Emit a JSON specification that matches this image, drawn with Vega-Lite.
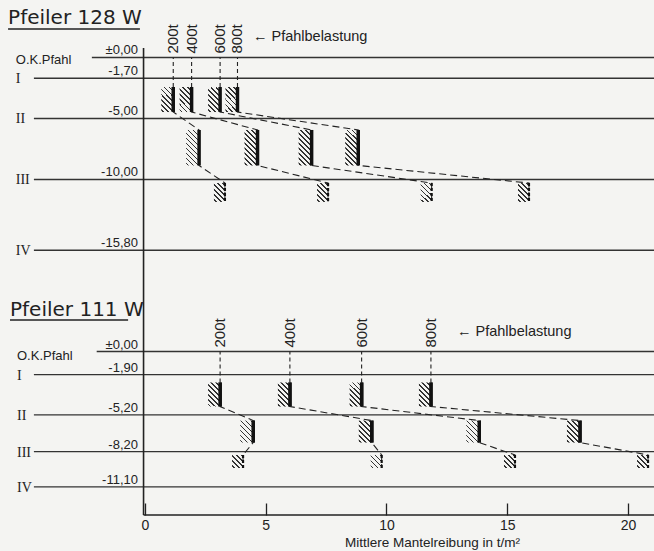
{
"$schema": "https://vega.github.io/schema/vega-lite/v6.json",
"background": "#f4f4f2",
"padding": {"left": 0, "top": 0, "right": 0, "bottom": 36},
"spacing": 0,
"bounds": "flush",
"config": {"view": {"stroke": null}, "text": {"font": "Liberation Sans", "fill": "#222"}},
"datasets": {
 "bars": [
  {"pier":"128 W","load":"200t","zone":"I","f":1.17,"top":-2.42,"bot":-4.47},
  {"pier":"128 W","load":"400t","zone":"I","f":1.93,"top":-2.42,"bot":-4.47},
  {"pier":"128 W","load":"600t","zone":"I","f":3.11,"top":-2.42,"bot":-4.47},
  {"pier":"128 W","load":"800t","zone":"I","f":3.83,"top":-2.42,"bot":-4.47},
  {"pier":"128 W","load":"200t","zone":"II","f":2.24,"top":-5.94,"bot":-8.85},
  {"pier":"128 W","load":"400t","zone":"II","f":4.66,"top":-5.94,"bot":-8.85},
  {"pier":"128 W","load":"600t","zone":"II","f":6.90,"top":-5.94,"bot":-8.85},
  {"pier":"128 W","load":"800t","zone":"II","f":8.83,"top":-5.94,"bot":-8.85},
  {"pier":"128 W","load":"200t","zone":"III","f":3.31,"top":-10.29,"bot":-11.84},
  {"pier":"128 W","load":"400t","zone":"III","f":7.58,"top":-10.29,"bot":-11.84},
  {"pier":"128 W","load":"600t","zone":"III","f":11.87,"top":-10.29,"bot":-11.84},
  {"pier":"128 W","load":"800t","zone":"III","f":15.9,"top":-10.29,"bot":-11.84},
  {"pier":"111 W","load":"200t","zone":"I","f":3.11,"top":-2.54,"bot":-4.51},
  {"pier":"111 W","load":"400t","zone":"I","f":6.0,"top":-2.54,"bot":-4.51},
  {"pier":"111 W","load":"600t","zone":"I","f":8.97,"top":-2.54,"bot":-4.51},
  {"pier":"111 W","load":"800t","zone":"I","f":11.84,"top":-2.54,"bot":-4.51},
  {"pier":"111 W","load":"200t","zone":"II","f":4.48,"top":-5.66,"bot":-7.46},
  {"pier":"111 W","load":"400t","zone":"II","f":9.39,"top":-5.66,"bot":-7.46},
  {"pier":"111 W","load":"600t","zone":"II","f":13.84,"top":-5.66,"bot":-7.46},
  {"pier":"111 W","load":"800t","zone":"II","f":18.01,"top":-5.66,"bot":-7.46},
  {"pier":"111 W","load":"200t","zone":"III","f":4.06,"top":-8.48,"bot":-9.55},
  {"pier":"111 W","load":"400t","zone":"III","f":9.80,"top":-8.48,"bot":-9.55},
  {"pier":"111 W","load":"600t","zone":"III","f":15.32,"top":-8.48,"bot":-9.55},
  {"pier":"111 W","load":"800t","zone":"III","f":20.83,"top":-8.48,"bot":-9.55}
 ],
 "levels": [
  {"pier":"128 W","depth":0,"label":"±0,00","name":"O.K.Pfahl"},
  {"pier":"128 W","depth":-1.7,"label":"-1,70","name":"I"},
  {"pier":"128 W","depth":-5.0,"label":"-5,00","name":"II"},
  {"pier":"128 W","depth":-10.0,"label":"-10,00","name":"III"},
  {"pier":"128 W","depth":-15.8,"label":"-15,80","name":"IV"},
  {"pier":"111 W","depth":0,"label":"±0,00","name":"O.K.Pfahl"},
  {"pier":"111 W","depth":-1.9,"label":"-1,90","name":"I"},
  {"pier":"111 W","depth":-5.2,"label":"-5,20","name":"II"},
  {"pier":"111 W","depth":-8.2,"label":"-8,20","name":"III"},
  {"pier":"111 W","depth":-11.1,"label":"-11,10","name":"IV"}
 ]
},
"vconcat": [
 {
  "width": 654, "height": 280,
  "layer": [
   {"data":{"name":"levels"},"transform":[{"filter":"datum.pier==='128 W' && datum.depth!==0"}],
    "mark":{"type":"rule","stroke":"#333","strokeWidth":1.3},
    "encoding":{"x":{"datum":-4.6,"type":"quantitative","scale":{"domain":[-6.004,21.077],"nice":false,"zero":false},"axis":null},"x2":{"datum":21.077},
     "y":{"field":"depth","type":"quantitative","scale":{"domain":[-18.238,4.713],"nice":false,"zero":false},"axis":null}}},
   {"data":{"name":"levels"},"transform":[{"filter":"datum.pier==='128 W' && datum.depth===0"}],
    "mark":{"type":"rule","stroke":"#333","strokeWidth":1.3},
    "encoding":{"x":{"datum":-2.2,"type":"quantitative","scale":{"domain":[-6.004,21.077],"nice":false,"zero":false},"axis":null},"x2":{"datum":21.077},
     "y":{"field":"depth","type":"quantitative","scale":{"domain":[-18.238,4.713],"nice":false,"zero":false},"axis":null}}},
   {"data":{"name":"levels"},"transform":[{"filter":"datum.pier==='128 W'"}],
    "mark":{"type":"text","align":"right","baseline":"alphabetic","dy":-3,"fontSize":13},
    "encoding":{"x":{"datum":-0.29,"type":"quantitative","scale":{"domain":[-6.004,21.077],"nice":false,"zero":false},"axis":null},
     "y":{"field":"depth","type":"quantitative","scale":{"domain":[-18.238,4.713],"nice":false,"zero":false},"axis":null},"text":{"field":"label","type":"nominal"}}},
   {"data":{"name":"levels"},"transform":[{"filter":"datum.pier==='128 W' && datum.depth===0"}],
    "mark":{"type":"text","align":"left","baseline":"middle","dy":3,"fontSize":13},
    "encoding":{"x":{"datum":-5.35,"type":"quantitative","scale":{"domain":[-6.004,21.077],"nice":false,"zero":false},"axis":null},
     "y":{"field":"depth","type":"quantitative","scale":{"domain":[-18.238,4.713],"nice":false,"zero":false},"axis":null},"text":{"field":"name","type":"nominal"}}},
   {"data":{"name":"levels"},"transform":[{"filter":"datum.pier==='128 W' && datum.depth!==0"}],
    "mark":{"type":"text","align":"left","baseline":"middle","dy":1,"fontSize":14,"font":"Liberation Serif"},
    "encoding":{"x":{"datum":-5.35,"type":"quantitative","scale":{"domain":[-6.004,21.077],"nice":false,"zero":false},"axis":null},
     "y":{"field":"depth","type":"quantitative","scale":{"domain":[-18.238,4.713],"nice":false,"zero":false},"axis":null},"text":{"field":"name","type":"nominal"}}},
   {"data":{"values":[{}]},
    "mark":{"type":"rule","stroke":"#222","strokeWidth":1.6},
    "encoding":{"x":{"datum":-0.06,"type":"quantitative","scale":{"domain":[-6.004,21.077],"nice":false,"zero":false},"axis":null},
     "y":{"datum":0.78,"type":"quantitative","scale":{"domain":[-18.238,4.713],"nice":false,"zero":false},"axis":null},"y2":{"datum":-18.238}}},
   {"data":{"name":"bars"},"transform":[{"filter":"datum.pier==='128 W' && datum.zone==='I'"}],
    "mark":{"type":"rect","xOffset":-12,"fill":{"gradient":"linear","x1":0,"y1":1,"x2":0.589,"y2":-0.2,"stops":[
     {"offset":0,"color":"#f4f4f2"},{"offset":0.04,"color":"#f4f4f2"},{"offset":0.04,"color":"#333"},{"offset":0.09,"color":"#333"},{"offset":0.09,"color":"#f4f4f2"},
     {"offset":0.177,"color":"#f4f4f2"},{"offset":0.177,"color":"#333"},{"offset":0.227,"color":"#333"},{"offset":0.227,"color":"#f4f4f2"},
     {"offset":0.314,"color":"#f4f4f2"},{"offset":0.314,"color":"#333"},{"offset":0.364,"color":"#333"},{"offset":0.364,"color":"#f4f4f2"},
     {"offset":0.451,"color":"#f4f4f2"},{"offset":0.451,"color":"#333"},{"offset":0.501,"color":"#333"},{"offset":0.501,"color":"#f4f4f2"},
     {"offset":0.588,"color":"#f4f4f2"},{"offset":0.588,"color":"#333"},{"offset":0.638,"color":"#333"},{"offset":0.638,"color":"#f4f4f2"},
     {"offset":0.725,"color":"#f4f4f2"},{"offset":0.725,"color":"#333"},{"offset":0.775,"color":"#333"},{"offset":0.775,"color":"#f4f4f2"},
     {"offset":0.862,"color":"#f4f4f2"},{"offset":0.862,"color":"#333"},{"offset":0.912,"color":"#333"},{"offset":0.912,"color":"#f4f4f2"},{"offset":1,"color":"#f4f4f2"}]}},
    "encoding":{"x":{"field":"f","type":"quantitative","scale":{"domain":[-6.004,21.077],"nice":false,"zero":false},"axis":null},"x2":{"field":"f"},
     "y":{"field":"top","type":"quantitative","scale":{"domain":[-18.238,4.713],"nice":false,"zero":false},"axis":null},"y2":{"field":"bot"}}},
   {"data":{"name":"bars"},"transform":[{"filter":"datum.pier==='128 W' && datum.zone==='II'"}],
    "mark":{"type":"rect","xOffset":-13,"fill":{"gradient":"linear","x1":0,"y1":1,"x2":0.441,"y2":-0.205,"stops":[
     {"offset":0,"color":"#f4f4f2"},{"offset":0.03,"color":"#f4f4f2"},{"offset":0.03,"color":"#333"},{"offset":0.067,"color":"#333"},{"offset":0.067,"color":"#f4f4f2"},
     {"offset":0.133,"color":"#f4f4f2"},{"offset":0.133,"color":"#333"},{"offset":0.17,"color":"#333"},{"offset":0.17,"color":"#f4f4f2"},
     {"offset":0.236,"color":"#f4f4f2"},{"offset":0.236,"color":"#333"},{"offset":0.273,"color":"#333"},{"offset":0.273,"color":"#f4f4f2"},
     {"offset":0.339,"color":"#f4f4f2"},{"offset":0.339,"color":"#333"},{"offset":0.376,"color":"#333"},{"offset":0.376,"color":"#f4f4f2"},
     {"offset":0.442,"color":"#f4f4f2"},{"offset":0.442,"color":"#333"},{"offset":0.479,"color":"#333"},{"offset":0.479,"color":"#f4f4f2"},
     {"offset":0.545,"color":"#f4f4f2"},{"offset":0.545,"color":"#333"},{"offset":0.582,"color":"#333"},{"offset":0.582,"color":"#f4f4f2"},
     {"offset":0.648,"color":"#f4f4f2"},{"offset":0.648,"color":"#333"},{"offset":0.685,"color":"#333"},{"offset":0.685,"color":"#f4f4f2"},
     {"offset":0.751,"color":"#f4f4f2"},{"offset":0.751,"color":"#333"},{"offset":0.788,"color":"#333"},{"offset":0.788,"color":"#f4f4f2"},
     {"offset":0.854,"color":"#f4f4f2"},{"offset":0.854,"color":"#333"},{"offset":0.891,"color":"#333"},{"offset":0.891,"color":"#f4f4f2"},
     {"offset":0.957,"color":"#f4f4f2"},{"offset":0.957,"color":"#333"},{"offset":0.994,"color":"#333"},{"offset":0.994,"color":"#f4f4f2"},{"offset":1,"color":"#f4f4f2"}]}},
    "encoding":{"x":{"field":"f","type":"quantitative","scale":{"domain":[-6.004,21.077],"nice":false,"zero":false},"axis":null},"x2":{"field":"f"},
     "y":{"field":"top","type":"quantitative","scale":{"domain":[-18.238,4.713],"nice":false,"zero":false},"axis":null},"y2":{"field":"bot"}}},
   {"data":{"name":"bars"},"transform":[{"filter":"datum.pier==='128 W' && datum.zone==='III'"}],
    "mark":{"type":"rect","xOffset":-11,"fill":{"gradient":"linear","x1":0,"y1":1,"x2":0.685,"y2":-0.183,"stops":[
     {"offset":0,"color":"#f4f4f2"},{"offset":0.05,"color":"#f4f4f2"},{"offset":0.05,"color":"#333"},{"offset":0.11,"color":"#333"},{"offset":0.11,"color":"#f4f4f2"},
     {"offset":0.217,"color":"#f4f4f2"},{"offset":0.217,"color":"#333"},{"offset":0.277,"color":"#333"},{"offset":0.277,"color":"#f4f4f2"},
     {"offset":0.384,"color":"#f4f4f2"},{"offset":0.384,"color":"#333"},{"offset":0.444,"color":"#333"},{"offset":0.444,"color":"#f4f4f2"},
     {"offset":0.551,"color":"#f4f4f2"},{"offset":0.551,"color":"#333"},{"offset":0.611,"color":"#333"},{"offset":0.611,"color":"#f4f4f2"},
     {"offset":0.718,"color":"#f4f4f2"},{"offset":0.718,"color":"#333"},{"offset":0.778,"color":"#333"},{"offset":0.778,"color":"#f4f4f2"},
     {"offset":0.885,"color":"#f4f4f2"},{"offset":0.885,"color":"#333"},{"offset":0.945,"color":"#333"},{"offset":0.945,"color":"#f4f4f2"},{"offset":1,"color":"#f4f4f2"}]}},
    "encoding":{"x":{"field":"f","type":"quantitative","scale":{"domain":[-6.004,21.077],"nice":false,"zero":false},"axis":null},"x2":{"field":"f"},
     "y":{"field":"top","type":"quantitative","scale":{"domain":[-18.238,4.713],"nice":false,"zero":false},"axis":null},"y2":{"field":"bot"}}},
   {"data":{"name":"bars"},"transform":[{"filter":"datum.pier==='128 W' && datum.zone==='I'"}],
    "mark":{"type":"rule","strokeDash":[4,3],"strokeWidth":1.1,"stroke":"#222"},
    "encoding":{"x":{"field":"f","type":"quantitative","scale":{"domain":[-6.004,21.077],"nice":false,"zero":false},"axis":null},
     "y":{"field":"top","type":"quantitative","scale":{"domain":[-18.238,4.713],"nice":false,"zero":false},"axis":null},"y2":{"datum":0}}},
   {"data":{"name":"bars"},"transform":[{"filter":"datum.pier==='128 W'"},{"fold":["top","bot"],"as":["k","d"]}],
    "mark":{"type":"line","strokeDash":[7,4],"strokeWidth":1.1,"stroke":"#222"},
    "encoding":{"x":{"field":"f","type":"quantitative","scale":{"domain":[-6.004,21.077],"nice":false,"zero":false},"axis":null},
     "y":{"field":"d","type":"quantitative","scale":{"domain":[-18.238,4.713],"nice":false,"zero":false},"axis":null},
     "detail":{"field":"load","type":"nominal"},"order":{"field":"d","type":"quantitative","sort":"descending"}}},
   {"data":{"name":"bars"},"transform":[{"filter":"datum.pier==='128 W' && datum.zone!=='III'"}],
    "mark":{"type":"rule","strokeWidth":3.5,"stroke":"#111"},
    "encoding":{"x":{"field":"f","type":"quantitative","scale":{"domain":[-6.004,21.077],"nice":false,"zero":false},"axis":null},
     "y":{"field":"top","type":"quantitative","scale":{"domain":[-18.238,4.713],"nice":false,"zero":false},"axis":null},"y2":{"field":"bot"}}},
   {"data":{"name":"bars"},"transform":[{"filter":"datum.pier==='128 W' && datum.zone==='III'"}],
    "mark":{"type":"rule","strokeWidth":2.2,"strokeDash":[3,2],"stroke":"#111"},
    "encoding":{"x":{"field":"f","type":"quantitative","scale":{"domain":[-6.004,21.077],"nice":false,"zero":false},"axis":null},
     "y":{"field":"top","type":"quantitative","scale":{"domain":[-18.238,4.713],"nice":false,"zero":false},"axis":null},"y2":{"field":"bot"}}},
   {"data":{"name":"bars"},"transform":[{"filter":"datum.pier==='128 W' && datum.zone==='I'"}],
    "mark":{"type":"text","angle":270,"align":"left","baseline":"middle","dx":4,"fontSize":15},
    "encoding":{"x":{"field":"f","type":"quantitative","scale":{"domain":[-6.004,21.077],"nice":false,"zero":false},"axis":null},
     "y":{"datum":0,"type":"quantitative","scale":{"domain":[-18.238,4.713],"nice":false,"zero":false},"axis":null},"text":{"field":"load","type":"nominal"}}},
   {"data":{"values":[{}]},
    "mark":{"type":"text","align":"left","baseline":"middle","fontSize":14.5,"text":"← Pfahlbelastung"},
    "encoding":{"x":{"datum":4.47,"type":"quantitative","scale":{"domain":[-6.004,21.077],"nice":false,"zero":false},"axis":null},
     "y":{"datum":1.68,"type":"quantitative","scale":{"domain":[-18.238,4.713],"nice":false,"zero":false},"axis":null}}},
   {"data":{"values":[{}]},
    "mark":{"type":"text","align":"left","baseline":"middle","fontSize":20,"font":"DejaVu Sans","text":"Pfeiler 128 W"},
    "encoding":{"x":{"datum":-5.67,"type":"quantitative","scale":{"domain":[-6.004,21.077],"nice":false,"zero":false},"axis":null},
     "y":{"datum":3.24,"type":"quantitative","scale":{"domain":[-18.238,4.713],"nice":false,"zero":false},"axis":null}}},
   {"data":{"values":[{}]},
    "mark":{"type":"rule","stroke":"#222","strokeWidth":1.6},
    "encoding":{"x":{"datum":-5.67,"type":"quantitative","scale":{"domain":[-6.004,21.077],"nice":false,"zero":false},"axis":null},"x2":{"datum":-0.21},
     "y":{"datum":2.34,"type":"quantitative","scale":{"domain":[-18.238,4.713],"nice":false,"zero":false},"axis":null}}}
  ]
 },
 {
  "width": 654, "height": 235,
  "resolve": {"axis": {"x": "independent"}},
  "layer": [
   {"data":{"name":"bars"},"transform":[{"filter":"datum.pier==='111 W' && datum.zone!=='III'"}],
    "mark":{"type":"rule","strokeWidth":3.5,"stroke":"#111"},
    "encoding":{"x":{"field":"f","type":"quantitative","scale":{"domain":[-6.004,21.077],"nice":false,"zero":false},
       "axis":{"values":[0,5,10,15,20],"domain":false,"grid":false,"ticks":true,"tickSize":-12,"tickColor":"#222","tickWidth":1.3,"labelPadding":15,"labelFontSize":14,"labelFont":"Liberation Sans","labelColor":"#222","labelFlush":false,"labelOverlap":false,
        "title":"Mittlere Mantelreibung in t/m²","titleFont":"Liberation Sans","titleFontSize":13.5,"titleFontWeight":"normal","titleColor":"#222","titleX":432,"titleY":31,"titleAlign":"center","titleBaseline":"alphabetic"}},
     "y":{"field":"top","type":"quantitative","scale":{"domain":[-13.401,5.861],"nice":false,"zero":false},"axis":null},"y2":{"field":"bot"}}},
   {"data":{"name":"levels"},"transform":[{"filter":"datum.pier==='111 W' && datum.depth!==0"}],
    "mark":{"type":"rule","stroke":"#333","strokeWidth":1.3},
    "encoding":{"x":{"datum":-4.6,"type":"quantitative","scale":{"domain":[-6.004,21.077],"nice":false,"zero":false},"axis":null},"x2":{"datum":21.077},
     "y":{"field":"depth","type":"quantitative","scale":{"domain":[-13.401,5.861],"nice":false,"zero":false},"axis":null}}},
   {"data":{"name":"levels"},"transform":[{"filter":"datum.pier==='111 W' && datum.depth===0"}],
    "mark":{"type":"rule","stroke":"#333","strokeWidth":1.3},
    "encoding":{"x":{"datum":-2.0,"type":"quantitative","scale":{"domain":[-6.004,21.077],"nice":false,"zero":false},"axis":null},"x2":{"datum":21.077},
     "y":{"field":"depth","type":"quantitative","scale":{"domain":[-13.401,5.861],"nice":false,"zero":false},"axis":null}}},
   {"data":{"name":"levels"},"transform":[{"filter":"datum.pier==='111 W'"}],
    "mark":{"type":"text","align":"right","baseline":"alphabetic","dy":-3,"fontSize":13},
    "encoding":{"x":{"datum":-0.29,"type":"quantitative","scale":{"domain":[-6.004,21.077],"nice":false,"zero":false},"axis":null},
     "y":{"field":"depth","type":"quantitative","scale":{"domain":[-13.401,5.861],"nice":false,"zero":false},"axis":null},"text":{"field":"label","type":"nominal"}}},
   {"data":{"name":"levels"},"transform":[{"filter":"datum.pier==='111 W' && datum.depth===0"}],
    "mark":{"type":"text","align":"left","baseline":"middle","dy":4,"fontSize":13},
    "encoding":{"x":{"datum":-5.3,"type":"quantitative","scale":{"domain":[-6.004,21.077],"nice":false,"zero":false},"axis":null},
     "y":{"field":"depth","type":"quantitative","scale":{"domain":[-13.401,5.861],"nice":false,"zero":false},"axis":null},"text":{"field":"name","type":"nominal"}}},
   {"data":{"name":"levels"},"transform":[{"filter":"datum.pier==='111 W' && datum.depth!==0"}],
    "mark":{"type":"text","align":"left","baseline":"middle","dy":1,"fontSize":14,"font":"Liberation Serif"},
    "encoding":{"x":{"datum":-5.3,"type":"quantitative","scale":{"domain":[-6.004,21.077],"nice":false,"zero":false},"axis":null},
     "y":{"field":"depth","type":"quantitative","scale":{"domain":[-13.401,5.861],"nice":false,"zero":false},"axis":null},"text":{"field":"name","type":"nominal"}}},
   {"data":{"values":[{}]},
    "mark":{"type":"rule","stroke":"#222","strokeWidth":1.6},
    "encoding":{"x":{"datum":-0.06,"type":"quantitative","scale":{"domain":[-6.004,21.077],"nice":false,"zero":false},"axis":null},
     "y":{"datum":5.861,"type":"quantitative","scale":{"domain":[-13.401,5.861],"nice":false,"zero":false},"axis":null},"y2":{"datum":-13.401}}},
   {"data":{"values":[{}]},
    "mark":{"type":"rule","stroke":"#222","strokeWidth":1.6},
    "encoding":{"x":{"datum":-0.06,"type":"quantitative","scale":{"domain":[-6.004,21.077],"nice":false,"zero":false},"axis":null},
     "x2":{"datum":21.077},
     "y":{"datum":-13.401,"type":"quantitative","scale":{"domain":[-13.401,5.861],"nice":false,"zero":false},"axis":null}}},
   {"data":{"name":"bars"},"transform":[{"filter":"datum.pier==='111 W' && datum.zone==='I'"}],
    "mark":{"type":"rect","xOffset":-12,"fill":{"gradient":"linear","x1":0,"y1":1,"x2":0.589,"y2":-0.2,"stops":[
     {"offset":0,"color":"#f4f4f2"},{"offset":0.04,"color":"#f4f4f2"},{"offset":0.04,"color":"#333"},{"offset":0.09,"color":"#333"},{"offset":0.09,"color":"#f4f4f2"},
     {"offset":0.177,"color":"#f4f4f2"},{"offset":0.177,"color":"#333"},{"offset":0.227,"color":"#333"},{"offset":0.227,"color":"#f4f4f2"},
     {"offset":0.314,"color":"#f4f4f2"},{"offset":0.314,"color":"#333"},{"offset":0.364,"color":"#333"},{"offset":0.364,"color":"#f4f4f2"},
     {"offset":0.451,"color":"#f4f4f2"},{"offset":0.451,"color":"#333"},{"offset":0.501,"color":"#333"},{"offset":0.501,"color":"#f4f4f2"},
     {"offset":0.588,"color":"#f4f4f2"},{"offset":0.588,"color":"#333"},{"offset":0.638,"color":"#333"},{"offset":0.638,"color":"#f4f4f2"},
     {"offset":0.725,"color":"#f4f4f2"},{"offset":0.725,"color":"#333"},{"offset":0.775,"color":"#333"},{"offset":0.775,"color":"#f4f4f2"},
     {"offset":0.862,"color":"#f4f4f2"},{"offset":0.862,"color":"#333"},{"offset":0.912,"color":"#333"},{"offset":0.912,"color":"#f4f4f2"},{"offset":1,"color":"#f4f4f2"}]}},
    "encoding":{"x":{"field":"f","type":"quantitative","scale":{"domain":[-6.004,21.077],"nice":false,"zero":false},"axis":null},"x2":{"field":"f"},
     "y":{"field":"top","type":"quantitative","scale":{"domain":[-13.401,5.861],"nice":false,"zero":false},"axis":null},"y2":{"field":"bot"}}},
   {"data":{"name":"bars"},"transform":[{"filter":"datum.pier==='111 W' && datum.zone==='II'"}],
    "mark":{"type":"rect","xOffset":-13,"fill":{"gradient":"linear","x1":0,"y1":1,"x2":0.696,"y2":-0.18,"stops":[
     {"offset":0,"color":"#f4f4f2"},{"offset":0.04,"color":"#f4f4f2"},{"offset":0.04,"color":"#333"},{"offset":0.091,"color":"#333"},{"offset":0.091,"color":"#f4f4f2"},
     {"offset":0.183,"color":"#f4f4f2"},{"offset":0.183,"color":"#333"},{"offset":0.234,"color":"#333"},{"offset":0.234,"color":"#f4f4f2"},
     {"offset":0.326,"color":"#f4f4f2"},{"offset":0.326,"color":"#333"},{"offset":0.377,"color":"#333"},{"offset":0.377,"color":"#f4f4f2"},
     {"offset":0.469,"color":"#f4f4f2"},{"offset":0.469,"color":"#333"},{"offset":0.52,"color":"#333"},{"offset":0.52,"color":"#f4f4f2"},
     {"offset":0.612,"color":"#f4f4f2"},{"offset":0.612,"color":"#333"},{"offset":0.663,"color":"#333"},{"offset":0.663,"color":"#f4f4f2"},
     {"offset":0.755,"color":"#f4f4f2"},{"offset":0.755,"color":"#333"},{"offset":0.806,"color":"#333"},{"offset":0.806,"color":"#f4f4f2"},
     {"offset":0.898,"color":"#f4f4f2"},{"offset":0.898,"color":"#333"},{"offset":0.949,"color":"#333"},{"offset":0.949,"color":"#f4f4f2"},{"offset":1,"color":"#f4f4f2"}]}},
    "encoding":{"x":{"field":"f","type":"quantitative","scale":{"domain":[-6.004,21.077],"nice":false,"zero":false},"axis":null},"x2":{"field":"f"},
     "y":{"field":"top","type":"quantitative","scale":{"domain":[-13.401,5.861],"nice":false,"zero":false},"axis":null},"y2":{"field":"bot"}}},
   {"data":{"name":"bars"},"transform":[{"filter":"datum.pier==='111 W' && datum.zone==='III'"}],
    "mark":{"type":"rect","xOffset":-11,"fill":{"gradient":"linear","x1":0,"y1":1,"x2":0.91,"y2":-0.076,"stops":[
     {"offset":0,"color":"#f4f4f2"},{"offset":0.06,"color":"#f4f4f2"},{"offset":0.06,"color":"#333"},{"offset":0.135,"color":"#333"},{"offset":0.135,"color":"#f4f4f2"},
     {"offset":0.268,"color":"#f4f4f2"},{"offset":0.268,"color":"#333"},{"offset":0.343,"color":"#333"},{"offset":0.343,"color":"#f4f4f2"},
     {"offset":0.476,"color":"#f4f4f2"},{"offset":0.476,"color":"#333"},{"offset":0.551,"color":"#333"},{"offset":0.551,"color":"#f4f4f2"},
     {"offset":0.684,"color":"#f4f4f2"},{"offset":0.684,"color":"#333"},{"offset":0.759,"color":"#333"},{"offset":0.759,"color":"#f4f4f2"},
     {"offset":0.892,"color":"#f4f4f2"},{"offset":0.892,"color":"#333"},{"offset":0.967,"color":"#333"},{"offset":0.967,"color":"#f4f4f2"},{"offset":1,"color":"#f4f4f2"}]}},
    "encoding":{"x":{"field":"f","type":"quantitative","scale":{"domain":[-6.004,21.077],"nice":false,"zero":false},"axis":null},"x2":{"field":"f"},
     "y":{"field":"top","type":"quantitative","scale":{"domain":[-13.401,5.861],"nice":false,"zero":false},"axis":null},"y2":{"field":"bot"}}},
   {"data":{"name":"bars"},"transform":[{"filter":"datum.pier==='111 W' && datum.zone==='I'"}],
    "mark":{"type":"rule","strokeDash":[4,3],"strokeWidth":1.1,"stroke":"#222"},
    "encoding":{"x":{"field":"f","type":"quantitative","scale":{"domain":[-6.004,21.077],"nice":false,"zero":false},"axis":null},
     "y":{"field":"top","type":"quantitative","scale":{"domain":[-13.401,5.861],"nice":false,"zero":false},"axis":null},"y2":{"datum":0}}},
   {"data":{"name":"bars"},"transform":[{"filter":"datum.pier==='111 W'"},{"fold":["top","bot"],"as":["k","d"]}],
    "mark":{"type":"line","strokeDash":[7,4],"strokeWidth":1.1,"stroke":"#222"},
    "encoding":{"x":{"field":"f","type":"quantitative","scale":{"domain":[-6.004,21.077],"nice":false,"zero":false},"axis":null},
     "y":{"field":"d","type":"quantitative","scale":{"domain":[-13.401,5.861],"nice":false,"zero":false},"axis":null},
     "detail":{"field":"load","type":"nominal"},"order":{"field":"d","type":"quantitative","sort":"descending"}}},
   {"data":{"name":"bars"},"transform":[{"filter":"datum.pier==='111 W' && datum.zone!=='III'"}],
    "mark":{"type":"rule","strokeWidth":3.5,"stroke":"#111"},
    "encoding":{"x":{"field":"f","type":"quantitative","scale":{"domain":[-6.004,21.077],"nice":false,"zero":false},"axis":null},
     "y":{"field":"top","type":"quantitative","scale":{"domain":[-13.401,5.861],"nice":false,"zero":false},"axis":null},"y2":{"field":"bot"}}},
   {"data":{"name":"bars"},"transform":[{"filter":"datum.pier==='111 W' && datum.zone==='III'"}],
    "mark":{"type":"rule","strokeWidth":2.2,"strokeDash":[3,2],"stroke":"#111"},
    "encoding":{"x":{"field":"f","type":"quantitative","scale":{"domain":[-6.004,21.077],"nice":false,"zero":false},"axis":null},
     "y":{"field":"top","type":"quantitative","scale":{"domain":[-13.401,5.861],"nice":false,"zero":false},"axis":null},"y2":{"field":"bot"}}},
   {"data":{"name":"bars"},"transform":[{"filter":"datum.pier==='111 W' && datum.zone==='I'"}],
    "mark":{"type":"text","angle":270,"align":"left","baseline":"middle","dx":4,"fontSize":15},
    "encoding":{"x":{"field":"f","type":"quantitative","scale":{"domain":[-6.004,21.077],"nice":false,"zero":false},"axis":null},
     "y":{"datum":0,"type":"quantitative","scale":{"domain":[-13.401,5.861],"nice":false,"zero":false},"axis":null},"text":{"field":"load","type":"nominal"}}},
   {"data":{"values":[{}]},
    "mark":{"type":"text","align":"left","baseline":"middle","fontSize":14.5,"text":"← Pfahlbelastung"},
    "encoding":{"x":{"datum":12.92,"type":"quantitative","scale":{"domain":[-6.004,21.077],"nice":false,"zero":false},"axis":null},
     "y":{"datum":1.6,"type":"quantitative","scale":{"domain":[-13.401,5.861],"nice":false,"zero":false},"axis":null}}},
   {"data":{"values":[{}]},
    "mark":{"type":"text","align":"left","baseline":"middle","fontSize":20,"font":"DejaVu Sans","text":"Pfeiler 111 W"},
    "encoding":{"x":{"datum":-5.59,"type":"quantitative","scale":{"domain":[-6.004,21.077],"nice":false,"zero":false},"axis":null},
     "y":{"datum":3.4,"type":"quantitative","scale":{"domain":[-13.401,5.861],"nice":false,"zero":false},"axis":null}}},
   {"data":{"values":[{}]},
    "mark":{"type":"rule","stroke":"#222","strokeWidth":1.6},
    "encoding":{"x":{"datum":-5.59,"type":"quantitative","scale":{"domain":[-6.004,21.077],"nice":false,"zero":false},"axis":null},"x2":{"datum":-0.7},
     "y":{"datum":2.58,"type":"quantitative","scale":{"domain":[-13.401,5.861],"nice":false,"zero":false},"axis":null}}}
  ]
 }
]
}
